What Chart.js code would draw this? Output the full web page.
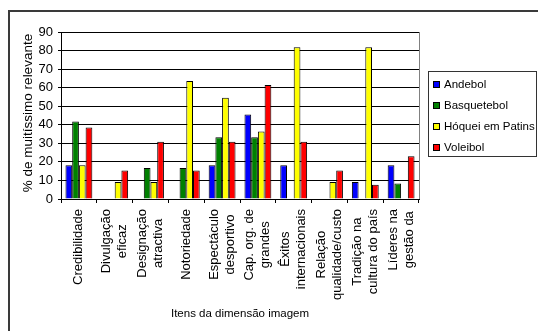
<!DOCTYPE html>
<html>
<head>
<meta charset="utf-8">
<title>Itens da dimensão imagem</title>
<script src="https://cdn.jsdelivr.net/npm/chart.js@4.4.0/dist/chart.umd.min.js"></script>
<style>
	body {margin: 0; background: #ffffff;}
	canvas {display: block;}
</style>
</head>
<body>
<canvas id="chart" width="538" height="331"></canvas>
<script>
// item labels, one array of lines per category
var categories =
[
	['Credibilidade'],
	['Divulgação', 'eficaz'],
	['Designação', 'atractiva'],
	['Notoriedade'],
	['Espectáculo', 'desportivo'],
	['Cap. org. de', 'grandes'],
	['Êxitos', 'internacionais'],
	['Relação', 'qualidade/custo'],
	['Tradição na', 'cultura do país'],
	['Líderes na', 'gestão da']
];

var sports = ['Andebol', 'Basquetebol', 'Hóquei em Patins', 'Voleibol'];

// % de muitíssimo relevante
var andebol = [18.2, 0, 0, 0, 18.2, 45.5, 18.2, 0, 9.1, 18.2];
var basquetebol = [41.7, 0, 16.7, 16.7, 33.3, 33.3, 0, 0, 0, 8.3];
var hoquei = [18.2, 9.1, 9.1, 63.6, 54.5, 36.4, 81.8, 9.1, 81.8, 0];
var voleibol = [38.5, 15.4, 30.8, 15.4, 30.8, 61.5, 30.8, 15.4, 7.7, 23.1];

var yTicks = [0, 10, 20, 30, 40, 50, 60, 70, 80, 90];

var colours = ['#0000ff', '#008000', '#ffff00', '#ff0000'];
var font = '"Liberation Sans", Arial, sans-serif';

var series = [andebol, basquetebol, hoquei, voleibol];

var datasets = [];

series.forEach(function (values, index)
{
	datasets.push(
	{
		label: sports[index],
		data: values,
		backgroundColor: colours[index],
		borderColor: '#000000',
		borderWidth: 1,
		borderSkipped: 'start',
		categoryPercentage: 0.75,
		barPercentage: 1
	});
});

// frame, category labels, titles and legend are drawn by hand
var extras =
{
	id: 'extras',
	afterDraw: function (chart)
	{
		var ctx = chart.ctx;
		var area = chart.chartArea;
		var xScale = chart.scales.x;

		ctx.save();

		ctx.strokeStyle = '#3a3a3a';
		ctx.lineWidth = 2;
		ctx.beginPath();
		ctx.moveTo(9, 331);
		ctx.lineTo(9, 11);
		ctx.lineTo(538, 11);
		ctx.stroke();

		ctx.strokeStyle = '#808080';
		ctx.lineWidth = 1;
		ctx.beginPath();
		ctx.moveTo(Math.round(area.right) + 0.5, area.top);
		ctx.lineTo(Math.round(area.right) + 0.5, area.bottom);
		ctx.stroke();

		// vertical item labels, lines centred on each other
		ctx.fillStyle = '#000000';
		ctx.font = '13px ' + font;
		ctx.textAlign = 'center';
		ctx.textBaseline = 'middle';

		categories.forEach(function (lines, i)
		{
			var cx = xScale.getPixelForTick(i);
			var widest = 0;
			lines.forEach(function (line) {widest = Math.max(widest, ctx.measureText(line).width)});

			ctx.save();
			ctx.translate(cx, area.bottom + 10);
			ctx.rotate(-Math.PI / 2);
			lines.forEach(function (line, j)
			{
				ctx.fillText(line, -widest / 2, (j - (lines.length - 1) / 2) * 16);
			});
			ctx.restore();
		});

		ctx.font = '13.5px ' + font;
		ctx.save();
		ctx.translate(28, 113);
		ctx.rotate(-Math.PI / 2);
		ctx.fillText('% de muitíssimo relevante', 0, 0);
		ctx.restore();

		ctx.font = '11.5px ' + font;
		ctx.fillText('Itens da dimensão imagem', (area.left + area.right) / 2, 314);

		// legend
		ctx.strokeStyle = '#333333';
		ctx.lineWidth = 1;
		ctx.strokeRect(428.5, 71.5, 108, 85);

		ctx.textAlign = 'left';
		chart.data.datasets.forEach(function (dataset, i)
		{
			var y = 84 + i * 21;
			ctx.fillStyle = dataset.backgroundColor;
			ctx.fillRect(433, y - 3, 7, 7);
			ctx.strokeStyle = '#000000';
			ctx.strokeRect(433.5, y - 2.5, 6, 6);
			ctx.fillStyle = '#000000';
			ctx.fillText(dataset.label, 444, y + 1);
		});

		ctx.restore();
	}
};

new Chart(document.getElementById('chart'),
{
	type: 'bar',
	data:
	{
		labels: categories,
		datasets: datasets
	},
	options:
	{
		responsive: false,
		animation: false,
		layout:
		{
			padding: {top: 32, right: 119, left: 0, bottom: 0}
		},
		plugins:
		{
			legend: {display: false},
			tooltip: {enabled: false}
		},
		scales:
		{
			x:
			{
				afterFit: function (scale) {scale.height = 132},
				grid:
				{
					drawOnChartArea: false,
					drawTicks: true,
					tickLength: 4,
					color: '#000000'
				},
				border: {color: '#000000', width: 1},
				ticks: {display: false, autoSkip: false}
			},
			y:
			{
				min: 0,
				max: 90,
				afterFit: function (scale) {scale.width = 61},
				afterBuildTicks: function (scale)
				{
					scale.ticks = yTicks.map(function (value) {return {value: value}});
				},
				grid:
				{
					color: '#000000',
					tickLength: 3
				},
				border: {color: '#000000', width: 1},
				ticks:
				{
					autoSkip: false,
					padding: 5,
					color: '#000000',
					font: {family: font, size: 13}
				}
			}
		}
	},
	plugins: [extras]
});
</script>
</body>
</html>
